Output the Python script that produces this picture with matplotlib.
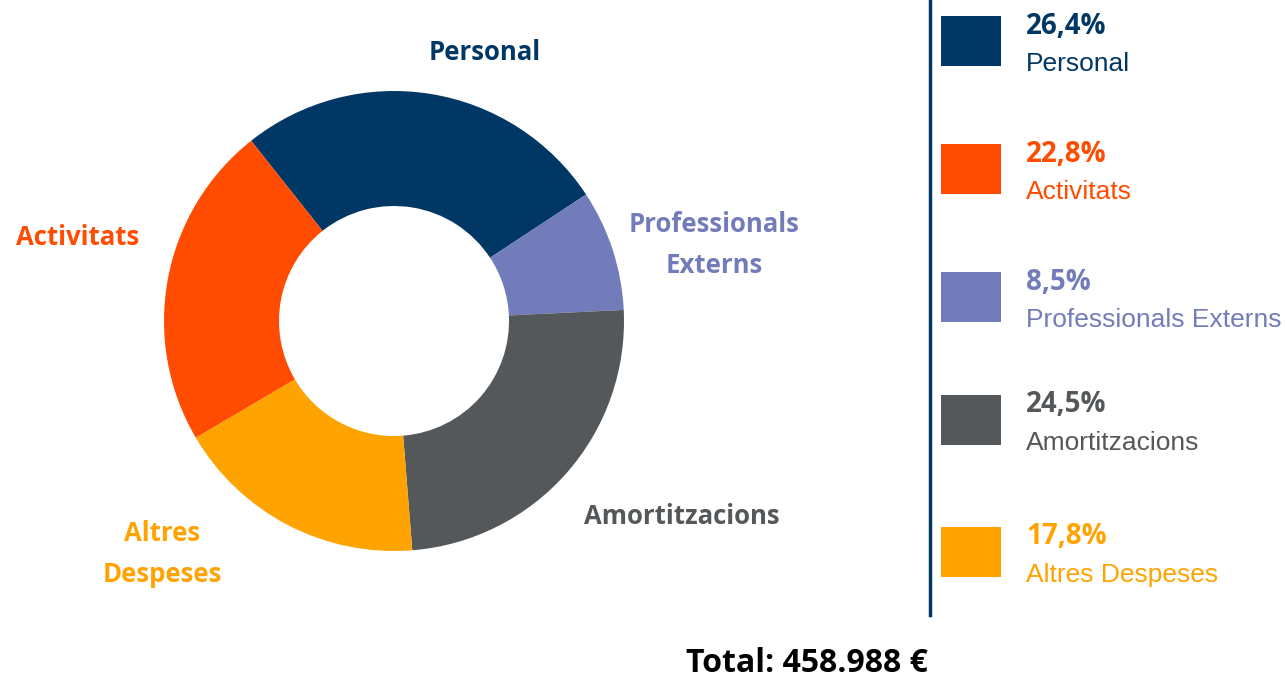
import matplotlib
matplotlib.use("Agg")
import matplotlib.pyplot as plt
from matplotlib.patches import Rectangle

categories = ["Personal", "Professionals Externs", "Amortitzacions", "Altres Despeses", "Activitats"]
values = [26.4, 8.5, 24.5, 17.8, 22.8]
colors = ["#003764", "#737CBA", "#54585A", "#FFA300", "#FF4C00"]
pct_labels = ["26,4%", "8,5%", "24,5%", "17,8%", "22,8%"]
donut_labels = ["Personal", "Professionals\nExterns", "Amortitzacions", "Altres\nDespeses", "Activitats"]
legend_order = ["Personal", "Activitats", "Professionals Externs", "Amortitzacions", "Altres Despeses"]
total_text = "Total: 458.988 €"

W, H = 1285, 677
fig = plt.figure(figsize=(W / 100, H / 100), dpi=100)


def fx(x):
    return x / W


def fy(y):
    return 1 - y / H


# donut
ax = fig.add_axes([fx(164), fy(551), 460 / W, 460 / H])
ax.pie(values, colors=colors, startangle=128.4, counterclock=False, radius=1,
       wedgeprops=dict(width=0.5, linewidth=0))
ax.set_xlim(-1, 1)
ax.set_ylim(-1, 1)
ax.set_aspect("equal")
ax.axis("off")

label_pos = {
    "Personal": (485, 53),
    "Professionals Externs": (714, 245),
    "Amortitzacions": (682, 517),
    "Altres Despeses": (162, 554),
    "Activitats": (78, 238),
}
for cat, lab, col in zip(categories, donut_labels, colors):
    x, y = label_pos[cat]
    fig.text(fx(x), fy(y), lab, color=col, fontsize=18.5, fontweight="bold",
             family="Open Sans", ha="center", va="center", linespacing=1.7)

# separator line
fig.add_artist(plt.Line2D([fx(930), fx(930)], [fy(0), fy(615)], color="#003764", lw=2.5))

# legend
row_tops = [16, 144, 272, 395, 527]
for top, cat in zip(row_tops, legend_order):
    i = categories.index(cat)
    fig.add_artist(Rectangle((fx(941), fy(top + 50)), 60 / W, 50 / H,
                             facecolor=colors[i], edgecolor="none", transform=fig.transFigure))
    fig.text(fx(1026), fy(top + 10), pct_labels[i], color=colors[i], fontsize=20,
             fontweight="bold", family="Open Sans", ha="left", va="center")
    fig.text(fx(1026), fy(top + 48), cat, color=colors[i], fontsize=19,
             family="Liberation Sans", ha="left", va="center")

fig.text(fx(807), fy(663), total_text, color="black", fontsize=23, fontweight="bold",
         family="Open Sans", ha="center", va="center")

plt.savefig("out.png", dpi=100)
